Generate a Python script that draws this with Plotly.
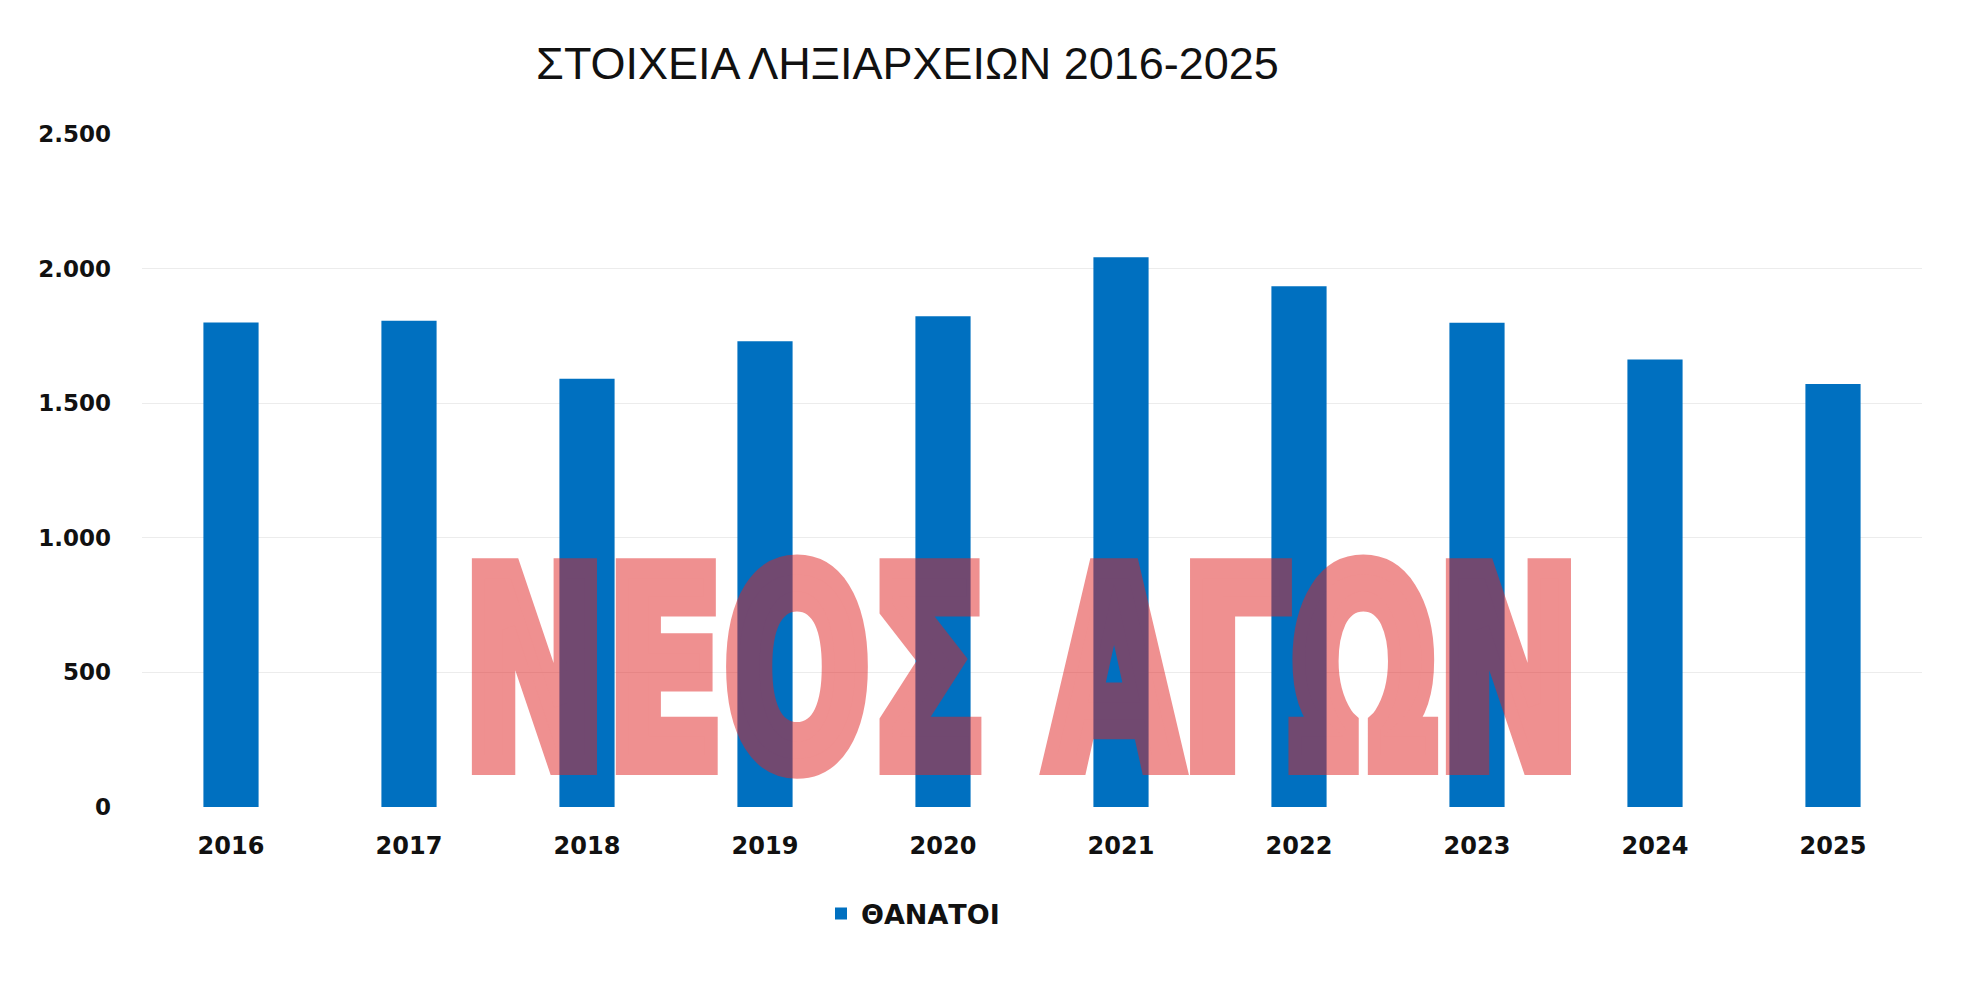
import plotly.graph_objects as go

years = ["2016", "2017", "2018", "2019", "2020", "2021", "2022", "2023", "2024", "2025"]
deaths = [1800, 1806, 1591, 1730, 1823, 2042, 1934, 1799, 1662, 1571]
series_name = "ΘΑΝΑΤΟΙ"
title_text = "ΣΤΟΙΧΕΙΑ ΛΗΞΙΑΡΧΕΙΩΝ 2016-2025"
watermark_text = "ΝΕΟΣ ΑΓΩΝ"
y_ticks = [0, 500, 1000, 1500, 2000, 2500]

# page body has an 8px margin, so the figure is 8px smaller each way
W, H = 1961, 976
L, R, T, B = 134, 47, 126, 177
pw = W - L - R
ph = H - T - B

fig = go.Figure()
fig.add_trace(go.Bar(
    x=years, y=deaths, name=series_name,
    marker=dict(color="#0070C0", line=dict(width=0)),
    showlegend=True,
))

fig.update_layout(
    width=W, height=H,
    margin=dict(l=L, r=R, t=T, b=B),
    paper_bgcolor="white", plot_bgcolor="white",
    separators=",.",
    bargap=0.69,
    title=dict(
        text=title_text,
        x=899.5 / W, xanchor="center", xref="container",
        y=1 - 55 / H, yanchor="middle", yref="container",
        font=dict(family="Liberation Sans, Arial, sans-serif", size=45, color="#111111"),
    ),
    showlegend=True,
    legend=dict(
        orientation="h",
        x=(813 - L) / pw, xanchor="left",
        y=(H - B - 906) / ph, yanchor="middle",
        font=dict(family="DejaVu Sans", size=27, color="#111111", weight="bold"),
        bgcolor="rgba(0,0,0,0)",
        itemwidth=30,
    ),
    xaxis=dict(
        showgrid=False, zeroline=False, showline=False, ticks="",
        tickfont=dict(family="DejaVu Sans", size=24, color="#111111", weight="bold"),
        ticklabelstandoff=22,
    ),
    yaxis=dict(
        range=[0, 2500], tickvals=y_ticks, tickformat=",d",
        showgrid=True, gridcolor="#ececec", gridwidth=1,
        zeroline=False, showline=False, ticks="",
        tickfont=dict(family="DejaVu Sans", size=23, color="#111111", weight="bold"),
        ticklabelstandoff=30,
    ),
)

fig.add_annotation(
    text=watermark_text,
    xref="paper", yref="paper",
    x=(1013 - L) / pw, y=(H - B - 663) / ph,
    xanchor="center", yanchor="middle",
    showarrow=False,
    font=dict(family="DejaVu Sans", size=270, color="rgb(225,35,35)", weight="bold"),
)

# the original watermark uses a very narrow poster font: squeeze it
# horizontally about its centre so the text stays real text
post_js = """
try {
  var gd = document.getElementById('{plot_id}');
  var texts = gd.querySelectorAll('text.annotation-text');
  texts.forEach(function(t){
    if (t.textContent.indexOf('ΝΕΟΣ') < 0) return;
    t.style.stroke = 'rgb(225,35,35)';
    t.style.strokeWidth = '20px';
    t.style.strokeLinejoin = 'miter';
    t.style.opacity = '0.5';
    var bb = t.getBBox();
    var cx = bb.x + bb.width / 2;
    var s = 1118 / bb.width;
    t.setAttribute('transform', 'translate(' + cx + ',0) scale(' + s + ',1) translate(' + (-cx) + ',0)');
  });
} catch (e) {}
"""

fig.write_html("out.html", post_script=post_js)
